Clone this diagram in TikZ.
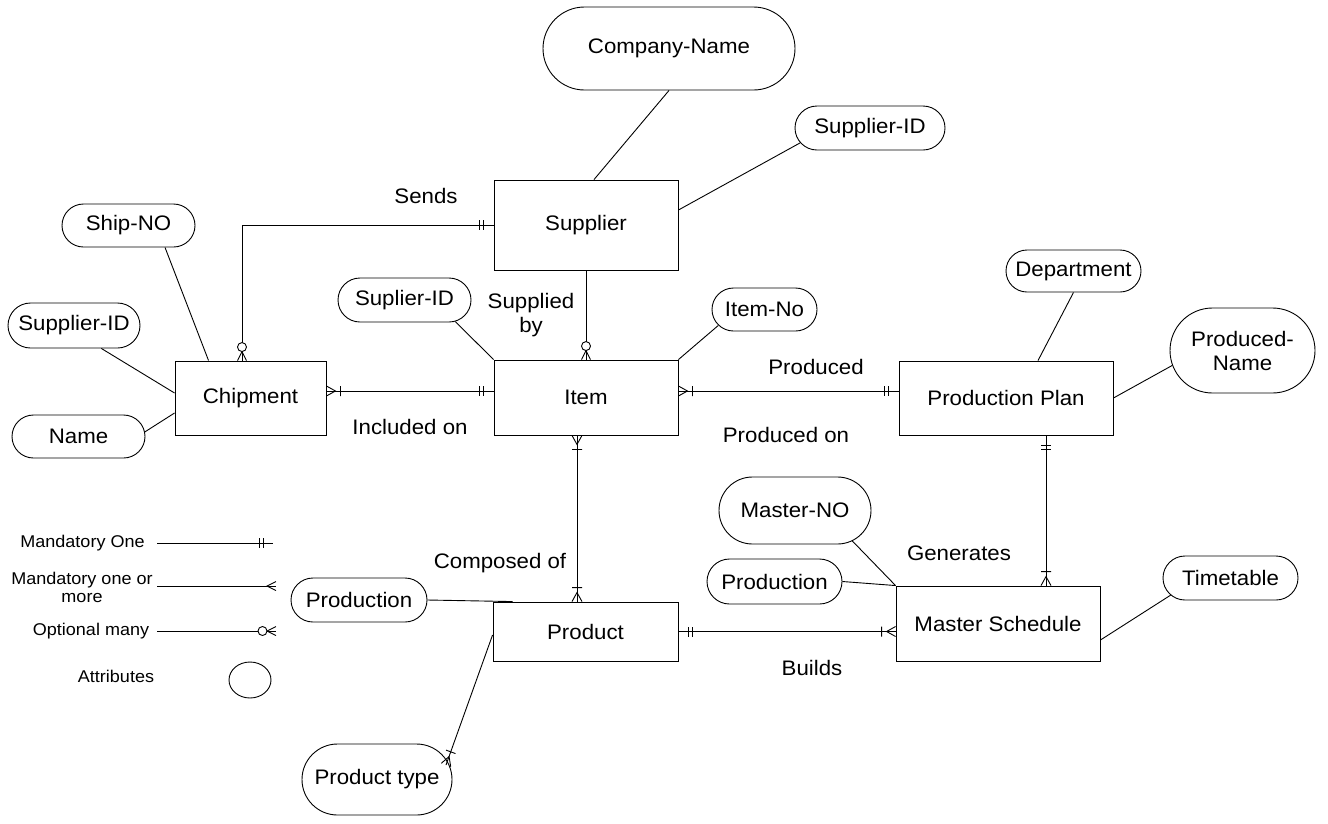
\documentclass[tikz,border=0pt]{standalone}
\usepackage{fontspec}
\setmainfont{Liberation Sans}[FakeStretch=1.06]
\usetikzlibrary{shapes.misc,shapes.geometric}

\tikzset{
  entity/.style={draw, rectangle, inner sep=0pt, line width=0.9pt, font=\fontsize{21}{24}\selectfont},
  attr/.style={draw, rounded rectangle, inner sep=0pt, line width=0.9pt, align=center, font=\fontsize{21}{24}\selectfont},
  rel/.style={align=center, inner sep=0pt, font=\fontsize{21}{24}\selectfont},
  legend/.style={align=center, inner sep=0pt, font=\fontsize{17}{18}\selectfont},
  conn/.style={line width=0.9pt},
  % end markers, drawn with the box edge at the origin and the line along +x
  mone/.pic={\draw[line width=0.9pt] (10,-5)--(10,5) (14,-5)--(14,5);},
  manyone/.pic={\draw[line width=0.9pt] (0,5)--(9,0)--(0,-5) (14,-5)--(14,5);},
  crowonly/.pic={\draw[line width=0.9pt] (0,4.5)--(9,0)--(0,-4.5);},
  optmany/.pic={\draw[line width=0.9pt] (0,4.5)--(9,0)--(0,-4.5);
                \draw[line width=0.9pt, fill=white] (13.5,0) circle (4.5pt);},
}

\begin{document}
\begin{tikzpicture}[x=1pt,y=1pt]
\useasboundingbox (0,0) rectangle (1328,-823);

% entities
\node[entity, minimum width=184pt, minimum height=90pt] (sup)  at (586,-225)   {Supplier};
\node[entity, minimum width=184pt, minimum height=75pt] (item) at (586,-397.5) {Item};
\node[entity, minimum width=151pt, minimum height=74pt] (chip) at (250.5,-398) {Chipment};
\node[entity, minimum width=214pt, minimum height=74pt] (pp)   at (1006,-398)  {Production Plan};
\node[entity, minimum width=204pt, minimum height=75pt] (ms)   at (998,-623.5) {Master Schedule};
\node[entity, minimum width=185pt, minimum height=59pt] (prod) at (585.5,-631.5) {Product};

% attributes
\node[attr, minimum width=252pt, minimum height=83pt] (cname)    at (669,-48.5)    {Company-Name};
\node[attr, minimum width=150pt, minimum height=44pt] (sidtop)   at (870,-128)     {Supplier-ID};
\node[attr, minimum width=133pt, minimum height=43pt] (shipno)   at (128.5,-225.5) {Ship-NO};
\node[attr, minimum width=132pt, minimum height=45pt] (sidleft)  at (74,-325.5)    {Supplier-ID};
\node[attr, minimum width=133pt, minimum height=43pt] (name)     at (78.5,-436.5)  {Name};
\node[attr, minimum width=133pt, minimum height=44pt] (suplid)   at (404.5,-300)   {Suplier-ID};
\node[attr, minimum width=105pt, minimum height=43pt] (itemno)   at (764.5,-309.5) {Item-No};
\node[attr, minimum width=135pt, minimum height=42pt] (dept)     at (1073.5,-271)  {Department};
\node[attr, minimum width=145pt, minimum height=85pt] (pname)    at (1242.5,-350.5) {Produced-\\Name};
\node[attr, minimum width=152pt, minimum height=67pt] (masterno) at (795,-510.5)   {Master-NO};
\node[attr, minimum width=135pt, minimum height=45pt] (prodms)   at (774.5,-581.5) {Production};
\node[attr, minimum width=135pt, minimum height=44pt] (timet)    at (1230.5,-578)  {Timetable};
\node[attr, minimum width=136pt, minimum height=44pt] (prodleft) at (359,-600)     {Production};
\node[attr, minimum width=150pt, minimum height=71pt] (ptype)    at (377,-779.5)   {Product type};
\coordinate (ptend) at (446,-765);

% relationship labels
\node[rel] (lsends) at (426,-196)   {Sends};
\node[rel] (lsupby) at (531,-315)   {Supplied\\by};
\node[rel] (lincl)  at (410,-427)   {Included on};
\node[rel] (lprod)  at (816,-367)   {Produced};
\node[rel] (lprodon) at (786,-435)  {Produced on};
\node[rel] (lcomp)  at (500,-563)   {Composed of};
\node[rel] (lgen)   at (959,-553)   {Generates};
\node[rel] (lbuild) at (812,-668)   {Builds};

% relationships
\draw[conn] (sup.west) -| ([xshift=-8.5pt]chip.north);
\path (sup.west) pic[rotate=180] {mone};
\path ([xshift=-8.5pt]chip.north) pic[rotate=90] {optmany};

\draw[conn] (sup.south) -- (item.north);
\path (item.north) pic[rotate=90] {optmany};

\draw[conn] ([yshift=7pt]chip.east) -- ([yshift=6.5pt]item.west);
\path ([yshift=7pt]chip.east) pic {manyone};
\path ([yshift=6.5pt]item.west) pic[rotate=180] {mone};

\draw[conn] ([yshift=6.5pt]item.east) -- ([yshift=7pt]pp.west);
\path ([yshift=6.5pt]item.east) pic {manyone};
\path ([yshift=7pt]pp.west) pic[rotate=180] {mone};

\draw[conn] ([xshift=-9pt]item.south) -- ([xshift=-8.5pt]prod.north);
\path ([xshift=-9pt]item.south) pic[rotate=-90] {manyone};
\path ([xshift=-8.5pt]prod.north) pic[rotate=90] {manyone};

\draw[conn] ([xshift=40pt]pp.south) -- ([xshift=48pt]ms.north);
\path ([xshift=40pt]pp.south) pic[rotate=-90] {mone};
\path ([xshift=48pt]ms.north) pic[rotate=90] {manyone};

\draw[conn] (prod.east) -- (prod.east -| ms.west);
\path (prod.east) pic {mone};
\path (prod.east -| ms.west) pic[rotate=180] {manyone};

\draw[conn] ([yshift=-3.5pt]prod.west) -- (ptend);
\path (ptend) pic[rotate=70] {manyone};

% attribute links
\draw[conn] (cname.south) -- ([xshift=8pt]sup.north);
\draw[conn] (sidtop.192) -- ([yshift=15pt]sup.east);
\draw[conn] (shipno.-31) -- ([xshift=34pt]chip.north west);
\draw[conn] (sidleft.-40) -- ([yshift=5pt]chip.west);
\draw[conn] (name.4) -- ([yshift=-15pt]chip.west);
\draw[conn] (suplid.-23) -- (item.north west);
\draw[conn] (itemno.199) -- (item.north east);
\draw[conn] (dept.south) -- ([xshift=32pt]pp.north);
\draw[conn] (pname.192) -- (pp.east);
\draw[conn] (masterno.-28) -- (ms.north west);
\draw[conn] (prodms.east) -- (ms.north west);
\draw[conn] (timet.196) -- ([yshift=-16.5pt]ms.east);
\draw[conn] (prodleft.east) -- ([xshift=20pt]prod.north west);

% legend
\node[legend] (kone) at (82.5,-543) {Mandatory One};
\coordinate (kone1) at (157,-543);
\coordinate (kone2) at (273,-543);
\draw[conn] (kone1) -- (kone2);
\path (kone2) pic[rotate=180] {mone};

\node[legend] (kmany) at (82,-587) {Mandatory one or\\more};
\coordinate (kmany1) at (157,-586);
\coordinate (kmany2) at (276,-586);
\draw[conn] (kmany1) -- (kmany2);
\path (kmany2) pic[rotate=180] {crowonly};

\node[legend] (kopt) at (91,-631) {Optional many};
\coordinate (kopt1) at (157,-631);
\coordinate (kopt2) at (276,-631);
\draw[conn] (kopt1) -- (kopt2);
\path (kopt2) pic[rotate=180] {optmany};

\node[legend] (kattr) at (116,-676) {Attributes};
\node[draw, ellipse, line width=0.9pt, minimum width=42pt, minimum height=36pt, inner sep=0pt] (kell) at (250,-680) {};
\end{tikzpicture}
\end{document}
